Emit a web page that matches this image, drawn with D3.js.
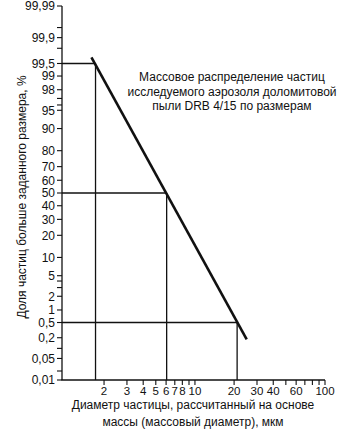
<!DOCTYPE html>
<html><head><meta charset="utf-8">
<script src="https://cdn.jsdelivr.net/npm/d3@7"></script>
<style>
html,body{margin:0;padding:0;background:#fff;}
svg text{font-family:"Liberation Sans",Arial,Helvetica,sans-serif;fill:#111;}
</style></head>
<body><svg id="c" width="346" height="430"></svg>
<script>
// ---- data ----
const yMajor = [0.01,0.05,0.2,0.5,1,2,5,10,20,30,40,50,60,70,80,90,95,98,99,99.5,99.9,99.99];
const yMajorLabels = ["0,01","0,05","0,2","0,5","1","2","5","10","20","30","40","50","60","70","80","90","95","98","99","99,5","99,9","99,99"];
const yMinor = [0.02,0.1,3,4,96,97,99.8,99.95];
const xTicks = [2,3,4,5,6,7,8,9,10,20,30,40,50,60,70,80,90,100];
const xLabelVals = [2,3,4,5,6,7,8,10,20,30,40,60,100];
const xLabelText = ["2","3","4","5","6","7","8","10","20","30","40","60","100"];
const fitLine = [{d:1.6,p:99.65},{d:25,p:0.18}];
const refPoints = [{d:1.72,p:99.5},{d:6.06,p:50},{d:21.1,p:0.5}];
const titleLines = ["Массовое распределение частиц","исследуемого аэрозоля доломитовой","пыли DRB 4/15 по размерам"];
const yTitle = "Доля частиц больше заданного размера, %";
const xTitleLines = ["Диаметр частицы, рассчитанный на основе","массы (массовый диаметр), мкм"];

// inverse normal CDF (Acklam)
function probit(p){
  const a=[-3.969683028665376e+01,2.209460984245205e+02,-2.759285104469687e+02,1.383577518672690e+02,-3.066479806614716e+01,2.506628277459239e+00];
  const b=[-5.447609879822406e+01,1.615858368580409e+02,-1.556989798598866e+02,6.680131188771972e+01,-1.328068155288572e+01];
  const c=[-7.784894002430293e-03,-3.223964580411365e-01,-2.400758277161838e+00,-2.549732539343734e+00,4.374664141464968e+00,2.938163982698783e+00];
  const d=[7.784695709041462e-03,3.224671290700398e-01,2.445134137142996e+00,3.754408661907416e+00];
  const pl=0.02425,ph=1-pl;let q,r;
  if(p<pl){q=Math.sqrt(-2*Math.log(p));return (((((c[0]*q+c[1])*q+c[2])*q+c[3])*q+c[4])*q+c[5])/((((d[0]*q+d[1])*q+d[2])*q+d[3])*q+1);}
  if(p<=ph){q=p-0.5;r=q*q;return (((((a[0]*r+a[1])*r+a[2])*r+a[3])*r+a[4])*r+a[5])*q/(((((b[0]*r+b[1])*r+b[2])*r+b[3])*r+b[4])*r+1);}
  q=Math.sqrt(-2*Math.log(1-p));return -(((((c[0]*q+c[1])*q+c[2])*q+c[3])*q+c[4])*q+c[5])/((((d[0]*q+d[1])*q+d[2])*q+d[3])*q+1);
}

const svg = d3.select("#c");
const x0=62, x1=325, yTop=6, yBot=380;
const x = d3.scaleLog().domain([0.95,100]).range([x0,x1]);
const zMax = probit(0.9999);
const zScale = d3.scaleLinear().domain([-zMax,zMax]).range([yBot,yTop]);
const y = p => zScale(probit(p/100));

// axes lines
svg.append("line").attr("x1",x0).attr("x2",x0).attr("y1",yTop).attr("y2",yBot).attr("stroke","#111").attr("stroke-width",1.3);
svg.append("line").attr("x1",x0-0.6).attr("x2",x1).attr("y1",yBot).attr("y2",yBot).attr("stroke","#111").attr("stroke-width",1.3);

// y ticks
const yt = svg.append("g");
yt.selectAll("line.maj").data(yMajor.concat(yMinor)).join("line")
  .attr("x1",x0-5).attr("x2",x0).attr("y1",d=>y(d)).attr("y2",d=>y(d)).attr("stroke","#111").attr("stroke-width",1.1);
yt.selectAll("text").data(yMajor).join("text")
  .attr("x",x0-7).attr("y",d=>y(d)).attr("dy","0.36em").attr("text-anchor","end")
  .attr("font-size",12).text((d,i)=>yMajorLabels[i]);

// x ticks
const xt = svg.append("g");
xt.selectAll("line").data(xTicks).join("line")
  .attr("x1",d=>x(d)).attr("x2",d=>x(d)).attr("y1",yBot).attr("y2",yBot+5).attr("stroke","#111").attr("stroke-width",1.1);
xt.selectAll("text").data(xLabelVals).join("text")
  .attr("x",d=>x(d)).attr("y",yBot+11).attr("dy","0.36em").attr("text-anchor","middle")
  .attr("font-size",11.5).text((d,i)=>xLabelText[i]);

// reference lines
const rg = svg.append("g").attr("stroke","#111").attr("stroke-width",1.3);
refPoints.forEach(r=>{
  rg.append("line").attr("x1",x0).attr("x2",x(r.d)).attr("y1",y(r.p)).attr("y2",y(r.p));
  rg.append("line").attr("x1",x(r.d)).attr("x2",x(r.d)).attr("y1",y(r.p)).attr("y2",yBot);
});

// fit line
svg.append("path").datum(fitLine)
  .attr("d",d3.line().x(d=>x(d.d)).y(d=>y(d.p)))
  .attr("stroke","#111").attr("stroke-width",2.6).attr("fill","none");

// title
svg.append("g").selectAll("text").data(titleLines).join("text")
  .attr("x",232).attr("y",(d,i)=>77+i*14.5).attr("dy","0.36em").attr("text-anchor","middle")
  .attr("font-size",12).text(d=>d);

// y title
svg.append("text").attr("transform","translate(22,197) rotate(-90)").attr("dy","0.36em")
  .attr("text-anchor","middle").attr("font-size",12).text(yTitle);

// x title
svg.append("g").selectAll("text").data(xTitleLines).join("text")
  .attr("x",193).attr("y",(d,i)=>405+i*17).attr("dy","0.36em").attr("text-anchor","middle")
  .attr("font-size",12).text(d=>d);
</script></body></html>
